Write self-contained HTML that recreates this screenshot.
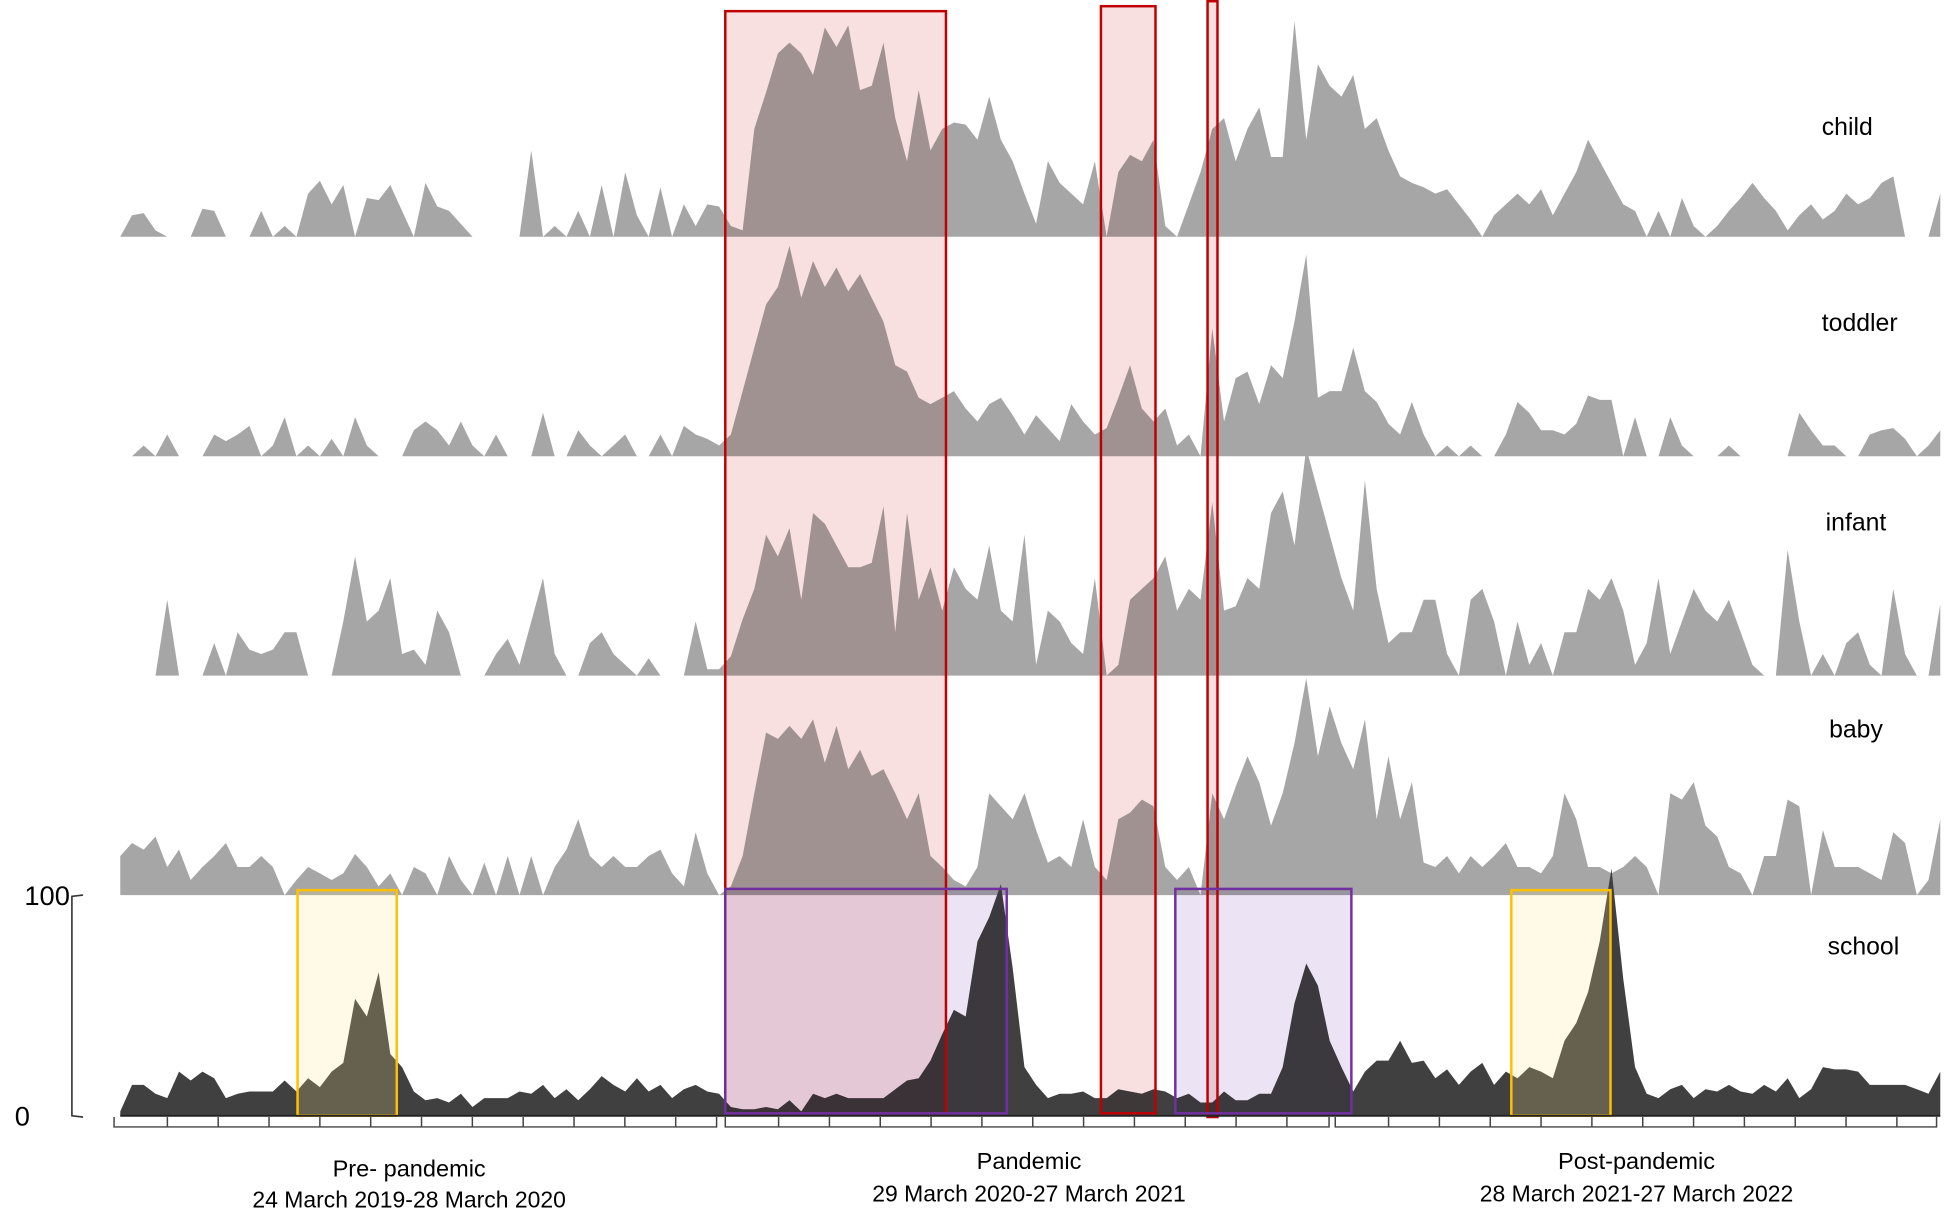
<!DOCTYPE html>
<html><head><meta charset="utf-8"><style>
html,body{margin:0;padding:0;background:#fff;}
svg{display:block;}
text{font-family:"Liberation Sans Narrow","Liberation Sans",sans-serif;fill:#000;}
</style></head><body>
<svg id="chart" width="1944" height="1210" viewBox="0 0 1568 976" preserveAspectRatio="none" xmlns="http://www.w3.org/2000/svg">
<g id="areas"></g>
<g id="boxes"></g>
<g id="axes"></g>
</svg>
<script>
const childVals = [0,10,11,3,0,0,0,13,12,0,0,0,12,0,5,0,20,26,15,24,0,18,17,24,12,0,25,14,12,6,0,0,0,0,0,40,0,5,0,12,0,24,0,30,10,0,23,0,15,5,15,14,
5,3,50,67,85,90,85,75,97,88,98,68,70,90,55,35,68,40,50,53,52,45,65,45,35,20,6,35,25,20,15,35,0,30,38,35,45,5,0,15,30,50,55,35,50,60,37,37,100,45,80,70,
65,75,50,55,40,28,25,23,20,22,15,8,0,10,15,20,15,22,10,20,30,45,35,25,15,12,0,12,0,18,5,0,5,12,18,25,18,12,3,10,15,8,12,20,15,18,25,28,0,0,0,20];
const toddlerVals = [0,0,5,0,10,0,0,0,10,7,10,14,0,5,18,0,5,0,8,0,18,5,0,0,0,12,16,12,5,16,5,0,10,0,0,0,20,0,0,12,5,0,5,10,0,0,10,0,14,10,8,5,
10,30,50,70,78,97,73,90,78,87,76,84,73,62,42,39,27,24,27,30,22,16,24,27,19,10,19,13,7,24,16,10,13,27,42,22,16,22,5,10,0,59,16,36,39,24,42,36,62,93,27,30,
30,50,30,25,15,10,25,10,0,5,0,5,0,0,10,25,20,12,12,10,15,28,26,26,0,18,0,0,18,5,0,0,0,5,0,0,0,0,0,20,12,5,5,0,0,10,12,13,8,0,5,12];
const infantVals = [0,0,0,0,35,0,0,0,15,0,20,12,10,12,20,20,0,0,0,25,55,25,30,45,10,12,5,30,20,0,0,0,10,17,5,25,45,10,0,0,15,20,10,5,0,8,0,0,0,25,3,3,
9,26,40,65,55,68,35,75,70,60,50,50,52,78,20,75,35,50,30,50,40,35,60,30,25,65,5,30,25,15,10,45,0,5,35,40,45,55,30,40,35,80,30,32,45,40,75,85,60,105,85,65,
45,30,90,40,15,20,20,35,35,10,0,35,40,25,0,25,5,15,0,20,20,40,35,45,30,5,15,45,10,25,40,30,25,35,20,5,0,0,58,25,0,10,0,15,20,5,0,40,10,0,0,33];
const babyVals = [18,24,21,27,13,21,7,13,18,24,13,13,18,13,0,7,13,10,7,10,19,13,4,10,0,13,10,0,18,7,0,15,0,18,0,18,0,13,21,35,18,13,18,13,13,18,21,10,4,29,10,0,
4,18,47,75,72,78,72,81,61,78,58,67,55,58,47,35,47,18,13,7,4,13,47,41,35,47,30,15,18,13,35,13,7,35,38,44,41,13,7,13,0,47,35,50,64,52,32,47,70,100,64,87,
70,58,81,35,64,35,52,15,13,18,10,18,13,18,24,13,13,10,18,47,35,13,13,10,13,18,13,0,47,44,52,32,27,13,10,0,18,18,44,41,0,30,13,13,13,10,7,29,24,0,7,35];
const schoolVals = [2,14,14,10,8,20,16,20,17,8,10,11,11,11,16,11,17,13,20,24,53,45,65,28,22,11,7,8,6,10,4,8,8,8,11,10,14,8,12,7,12,18,14,11,17,11,14,8,12,14,11,10,
4,3,3,4,3,7,2,10,8,10,8,8,8,8,12,16,17,25,37,48,45,79,90,105,67,22,14,8,10,10,11,8,8,12,11,10,12,11,8,10,6,6,11,7,7,10,10,22,51,69,59,34,
22,11,20,25,25,34,24,25,17,21,14,20,24,14,20,17,22,20,17,34,42,56,79,112,62,22,10,8,12,14,8,12,11,14,11,10,14,11,17,8,12,22,21,21,20,14,14,14,14,12,10,20];
const rowNames = ["child","toddler","infant","baby","school"];
const periodLabels = ["Pre- pandemic","Pandemic","Post-pandemic"];
const periodDates = ["24 March 2019-28 March 2020","29 March 2020-27 March 2021","28 March 2021-27 March 2022"];
const yTickLabels = ["0","100"];

const NS="http://www.w3.org/2000/svg";
const X0=97, X1=1565;
const step=(X1-X0)/155;
function xs(i){return X0+i*step;}
const baselines=[191,368,545,722,900];
const rowScale=[1.74,1.75,1.75,1.75,1.78];
function ys(v,r){return baselines[r]-v*rowScale[r];}
function mk(tag,attrs,parent){const e=document.createElementNS(NS,tag);for(const k in attrs)e.setAttribute(k,attrs[k]);parent.appendChild(e);return e;}

const areas=document.getElementById('areas');
const series=[childVals,toddlerVals,infantVals,babyVals,schoolVals];
series.forEach((vals,r)=>{
  let d=`M${xs(0)},${baselines[r]}`;
  vals.forEach((v,i)=>{d+=` L${xs(i).toFixed(1)},${ys(v,r).toFixed(1)}`;});
  d+=` L${xs(vals.length-1)},${baselines[r]} Z`;
  const p=mk('path',{d:d,fill:r===4?'#404040':'#a6a6a6'},areas);
  
  
});

const boxes=document.getElementById('boxes');
const boxDefs=[
 {n:'pandemic-red-box-1',x:585,y:9,w:178,h:889,f:'#f8e0e0',s:'#c00000',m:true},
 {n:'pandemic-red-box-2',x:888,y:5,w:44,h:893,f:'#f8e0e0',s:'#c00000',m:true},
 {n:'pandemic-red-box-3',x:974,y:1,w:8,h:900,f:'#f8e0e0',s:'#c00000',m:true},
 {n:'purple-box-1',x:585,y:717,w:227,h:181,f:'#ece4f4',s:'#7030a0',m:true},
 {n:'purple-box-2',x:948,y:717,w:142,h:181,f:'#ece4f4',s:'#7030a0',m:true},
 {n:'yellow-box-1',x:240,y:718,w:80,h:182,f:'rgba(255,225,140,0.2)',s:'#ffc000',m:false},
 {n:'yellow-box-2',x:1219,y:718,w:80,h:182,f:'rgba(255,225,140,0.2)',s:'#ffc000',m:false}
];
boxDefs.forEach(b=>{
  const r=mk('rect',{x:b.x,y:b.y,width:b.w,height:b.h,fill:b.f},boxes);
  if(b.m) r.setAttribute('style','mix-blend-mode:multiply');
  
  
});
boxDefs.forEach(b=>{
  const r=mk('rect',{x:b.x,y:b.y,width:b.w,height:b.h,fill:'none',stroke:b.s,'stroke-width':2},boxes);
  
  
});

const axes=document.getElementById('axes');
const labelPos=[[1490,109],[1500,267],[1497,428],[1497,595],[1503,770]];
rowNames.forEach((n,r)=>{
  const t=mk('text',{x:labelPos[r][0],y:labelPos[r][1],'text-anchor':'middle','font-size':20},axes);
  t.textContent=n;
  
  
});
const yb=mk('path',{d:'M67,722 L58,723 L58,900 L67,901',fill:'none',stroke:'#333','stroke-width':1.3},axes);


yTickLabels.forEach((l,i)=>{
  const t=mk('text',{x:i===0?18:38,y:i===0?908:730,'text-anchor':'middle','font-size':22},axes);
  t.textContent=l;
  
  
});
const periods=[[92,578,330],[585,1072,830],[1077,1562,1320]];
periods.forEach((p,k)=>{
  const g=mk('path',{d:`M${p[0]},901 L${p[0]},909 L${p[1]},909 L${p[1]},901`,fill:'none',stroke:'#444','stroke-width':1.2},axes);
  
  
  for(let x=p[0]+43;x<p[1]-10;x+=41){
    const t=mk('line',{x1:x,y1:901,x2:x,y2:909,stroke:'#444','stroke-width':1.2},axes);
    
    
  }
  const t1=mk('text',{x:p[2],y:k===0?949:943,'text-anchor':'middle','font-size':19},axes);
  t1.textContent=periodLabels[k];
  
  
  const t2=mk('text',{x:p[2],y:k===0?974:969,'text-anchor':'middle','font-size':18.5},axes);
  t2.textContent=periodDates[k];
  
  
});
const base=mk('line',{x1:97,y1:900,x2:1565,y2:900,stroke:'#222','stroke-width':1.5},axes);


</script>
</body></html>
